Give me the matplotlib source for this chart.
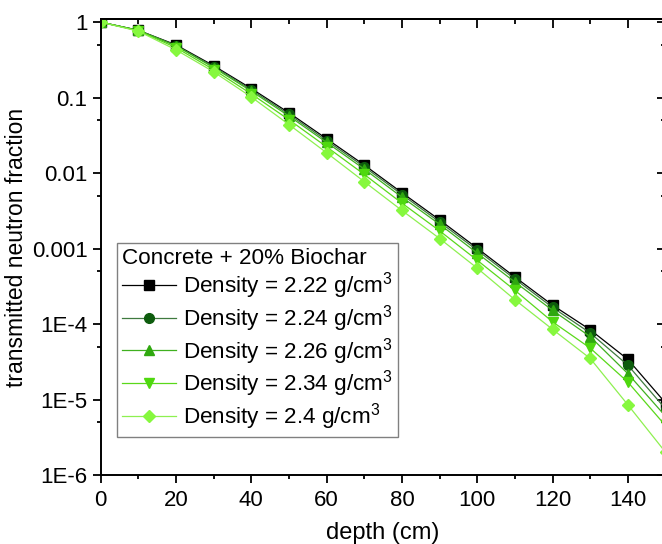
import matplotlib
matplotlib.use("Agg")
import matplotlib.pyplot as plt

plt.rcParams["font.family"] = ["Liberation Sans", "DejaVu Sans"]
plt.rcParams["mathtext.default"] = "regular"

# depth (cm) and transmitted neutron fraction
depth = [0, 10, 20, 30, 40, 50, 60, 70, 80, 90, 100, 110, 120, 130, 140, 150]
d222 = [1, 0.78, 0.50, 0.265, 0.132, 0.063, 0.0285, 0.0128, 0.0055, 0.0024,
        1.01e-3, 4.2e-4, 1.78e-4, 8.4e-5, 3.4e-5, 9e-6]
d224 = [1, 0.78, 0.49, 0.258, 0.127, 0.060, 0.0270, 0.0121, 0.0052, 0.00225,
        9.5e-4, 3.95e-4, 1.66e-4, 7.6e-5, 2.85e-5, 7.5e-6]
d226 = [1, 0.78, 0.485, 0.25, 0.122, 0.057, 0.0255, 0.0113, 0.0048, 0.0021,
        8.7e-4, 3.6e-4, 1.52e-4, 6.8e-5, 2.2e-5, 6e-6]
d234 = [1, 0.77, 0.46, 0.235, 0.112, 0.051, 0.0223, 0.0096, 0.0040, 0.00172,
        7.0e-4, 2.8e-4, 1.07e-4, 4.8e-5, 1.7e-5, 4.5e-6]
d240 = [1, 0.76, 0.43, 0.22, 0.102, 0.044, 0.0186, 0.0077, 0.0032, 0.00136,
        5.5e-4, 2.1e-4, 8.5e-5, 3.5e-5, 8.5e-6, 2e-6]

labels = ["2.22", "2.24", "2.26", "2.34", "2.4"]
series = [d222, d224, d226, d234, d240]
markers = ["s", "o", "^", "v", "D"]
colors = ["#000000", "#0d5c0d", "#2fa80f", "#4fd80f", "#86f83e"]
line_colors = ["#000000", "#3f7a3f", "#3fb01f", "#5ad81a", "#8ef050"]

ytick_vals = [1, 0.1, 0.01, 0.001, 1e-4, 1e-5, 1e-6]
ytick_labels = ["1", "0.1", "0.01", "0.001", "1E-4", "1E-5", "1E-6"]
yminor_vals = [0.5, 0.05, 0.005, 5e-4, 5e-5, 5e-6]

fig = plt.figure(figsize=(6.62, 5.44), dpi=100)
ax = fig.add_axes([0.152, 0.1268, 0.8534, 0.838])

for vals, lab, m, c, lc in zip(series, labels, markers, colors, line_colors):
    ms = 6.5 if m == "D" else 7
    ax.plot(depth, vals, color=lc, lw=0.9, marker=m, ms=ms, mfc=c, mec=c,
            label="Density = " + lab + " g/cm$^3$")

ax.set_yscale("log")
ax.set_xlim(0, 150)
ax.set_ylim(1e-6, 1.096)
ax.set_yticks(ytick_vals, ytick_labels)
ax.set_yticks(yminor_vals, minor=True)
ax.yaxis.set_minor_formatter(plt.NullFormatter())
ax.set_xticks(range(0, 141, 20))
ax.set_xticks(range(10, 151, 20), minor=True)

for s in ax.spines.values():
    s.set_linewidth(1.4)
ax.tick_params(which="major", direction="out", length=6, width=1.3, labelsize=16)
ax.tick_params(which="minor", direction="out", length=3, width=1.3)
ax.tick_params(axis="x", pad=5)

# Origin style: ticks pointing inward on the opposite axes
top = ax.secondary_xaxis("top")
top.set_xticks(range(0, 141, 20))
top.set_xticks(range(10, 151, 20), minor=True)
top.tick_params(which="major", direction="in", length=6.5, width=1.3, labeltop=False)
top.tick_params(which="minor", direction="in", length=3.5, width=1.3)
top.spines["top"].set_linewidth(1.4)

right = ax.secondary_yaxis("right", functions=(lambda y: y, lambda y: y))
right.set_yticks(ytick_vals)
right.set_yticks(yminor_vals, minor=True)
right.tick_params(which="major", direction="in", length=6.5, width=1.3, labelright=False)
right.tick_params(which="minor", direction="in", length=3.5, width=1.3, labelright=False)

ax.set_xlabel("depth (cm)", fontsize=17, labelpad=8)
ax.set_ylabel("transmitted neutron fraction", fontsize=16.5, labelpad=3)

leg = ax.legend(title="Concrete + 20% Biochar", loc="upper left",
                bbox_to_anchor=(117 / 662, 1 - 243 / 544),
                bbox_transform=fig.transFigure, fontsize=16.2, title_fontsize=16.2,
                fancybox=False, edgecolor="#808080", framealpha=1,
                handlelength=2.4, handletextpad=0.35, labelspacing=0.08,
                borderpad=0.2, borderaxespad=0, alignment="left")
leg.get_frame().set_linewidth(1.0)

fig.savefig("out.png", dpi=100)
